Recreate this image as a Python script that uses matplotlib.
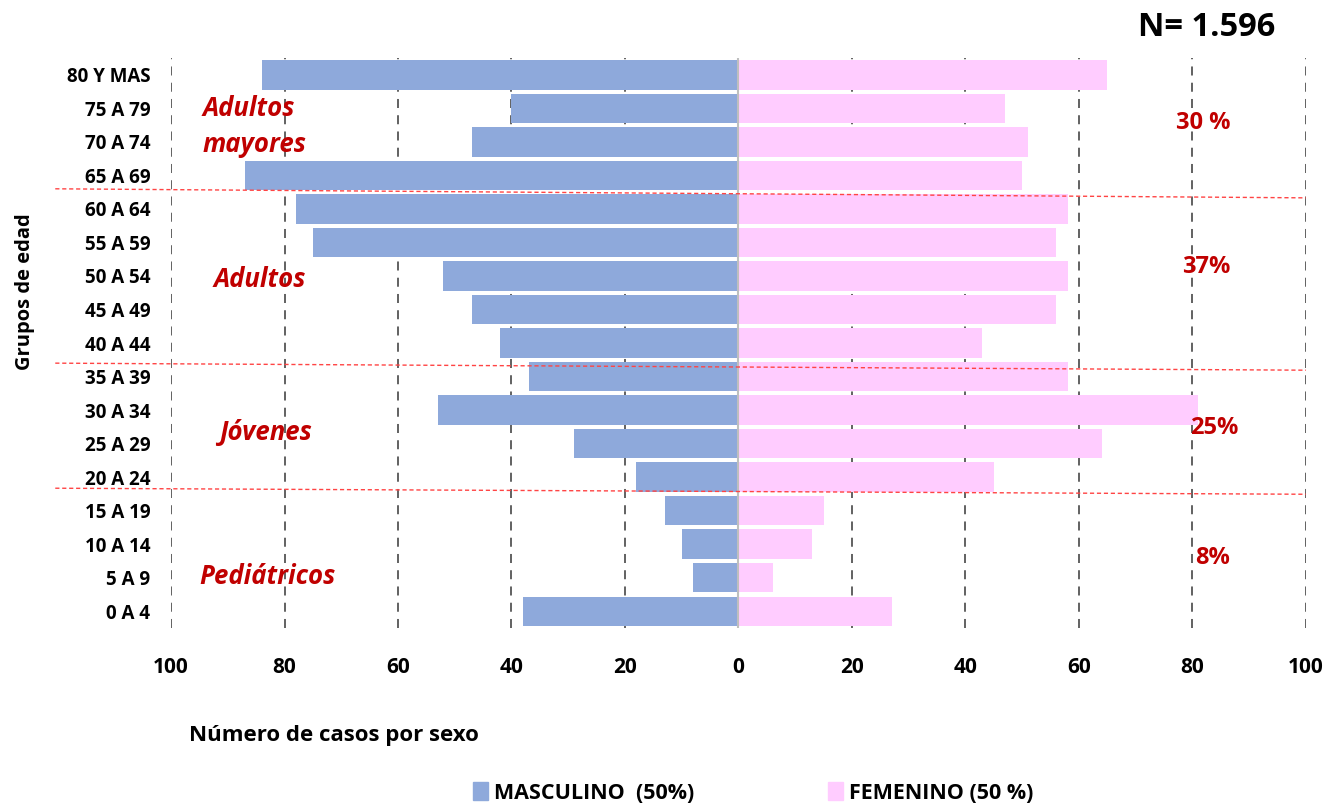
import matplotlib.pyplot as plt
from matplotlib.patches import Patch

plt.rcParams['font.family'] = ['Liberation Sans Narrow', 'Open Sans', 'DejaVu Sans']

# age groups, bottom to top
age_groups = ["0 A 4", "5 A 9", "10 A 14", "15 A 19", "20 A 24", "25 A 29",
              "30 A 34", "35 A 39", "40 A 44", "45 A 49", "50 A 54", "55 A 59",
              "60 A 64", "65 A 69", "70 A 74", "75 A 79", "80 Y MAS"]
masculino = [38, 8, 10, 13, 18, 29, 53, 37, 42, 47, 52, 75, 78, 87, 47, 40, 84]
femenino = [27, 6, 13, 15, 45, 64, 81, 58, 43, 56, 58, 56, 58, 50, 51, 47, 65]

x_ticks = [-100, -80, -60, -40, -20, 0, 20, 40, 60, 80, 100]
x_tick_labels = ["100", "80", "60", "40", "20", "0", "20", "40", "60", "80", "100"]

# group labels (left) and share of cases (right)
group_names = ["Adultos\nmayores", "Adultos", "Jóvenes", "Pediátricos"]
group_pcts = ["30 %", "37%", "25%", "8%"]

RED = "#C00000"
BLUE = "#8EA9DB"
PINK = "#FFCCFF"

fig = plt.figure(figsize=(13.33, 8.06), dpi=100)
ax = fig.add_axes([0.1283, 0.2208, 0.8514, 0.7072])

y = list(range(len(age_groups)))
ax.barh(y, [-m for m in masculino], height=0.88, color=BLUE, zorder=2)
ax.barh(y, femenino, height=0.88, color=PINK, zorder=2)

ax.set_xlim(-100, 100)
ax.set_ylim(-0.5, len(age_groups) - 0.5)
ax.set_xticks(x_ticks)
ax.set_xticklabels(x_tick_labels, fontsize=15, fontweight="bold")
ax.set_yticks(y)
ax.set_yticklabels(age_groups, fontsize=13.5, fontweight="bold")
ax.tick_params(axis="x", length=0, pad=21)
ax.tick_params(axis="y", length=0, pad=15)
for s in ax.spines.values():
    s.set_visible(False)

for xv in x_ticks:
    if xv == 0:
        continue
    ax.axvline(xv, color="#555555", linestyle=(0, (5, 4)), linewidth=1.3, zorder=1)
ax.axvline(0, color="#BFBFBF", linewidth=1.5, zorder=3)

# red dashed separators between groups
for y_left, y_right in [(12.6, 12.33), (7.4, 7.19), (3.67, 3.49)]:
    ax.plot([-120.4, 100], [y_left, y_right], color="#FF4444", linestyle=(0, (3, 2)),
            linewidth=1.0, clip_on=False, zorder=4)

# group annotations
name_pos = [(-94.5, 14.45), (-92.5, 9.88), (-91.5, 5.34), (-95, 1.04)]
for name, (xp, yp) in zip(group_names, name_pos):
    ax.text(xp, yp, name, color=RED, fontsize=18.5, fontweight="bold", style="italic",
            ha="left", va="center", linespacing=1.45)
pct_pos = [(81.9, 14.57), (82.5, 10.27), (83.9, 5.46), (83.5, 1.58)]
for pct, (xp, yp) in zip(group_pcts, pct_pos):
    ax.text(xp, yp, pct, color=RED, fontsize=17, fontweight="bold", ha="center", va="center")

fig.text(0.9565, 0.966, "N= 1.596", fontsize=23.5, fontweight="bold", ha="right", va="center")
fig.text(0.019, 0.638, "Grupos de edad", fontsize=14.5, fontweight="bold", rotation=90,
         ha="center", va="center")
fig.text(0.142, 0.088, "Número de casos por sexo", fontsize=16, fontweight="bold",
         ha="left", va="center")

handles = [Patch(color=BLUE), Patch(color=PINK)]
fig.legend(handles, ["MASCULINO  (50%)", "FEMENINO (50 %)"], loc="center",
           bbox_to_anchor=(0.565, 0.016), ncol=2, frameon=False,
           prop={"weight": "bold", "size": 15.5}, handlelength=0.7, handleheight=0.9,
           handletextpad=0.3, columnspacing=6.2)

fig.savefig("out.png", dpi=100)
